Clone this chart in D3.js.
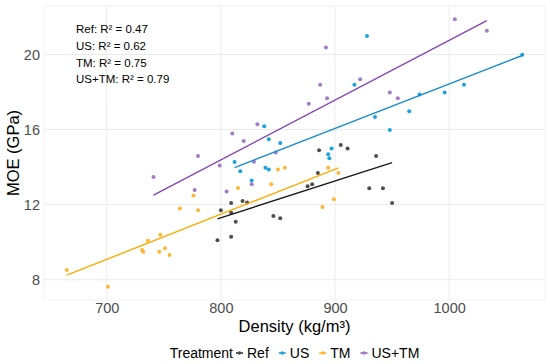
<!DOCTYPE html>
<html>
<head>
<meta charset="utf-8">
<script src="https://cdn.jsdelivr.net/npm/d3@7"></script>
<style>
  body { margin: 0; background: #fff; }
  text { font-family: "Liberation Sans", Arial, sans-serif; }
</style>
</head>
<body>
<svg id="chart" width="550" height="364"></svg>
<script>
// Data
const treatments = ["Ref", "US", "TM", "US+TM"];
const colors = ["#1a1a1a", "#1a8ccf", "#ffaa00", "#8445b5"];
const pointColors = ["#4d4d4d", "#1aa3dc", "#ffb733", "#a27cc6"];

const refDensity = [797, 809, 800, 809, 809, 813, 819, 823, 846, 852, 886, 905, 911, 936, 885, 876, 880, 930, 942, 950];
const refMoe = [10.10, 10.29, 11.70, 12.09, 11.57, 11.09, 12.19, 12.11, 11.39, 11.28, 14.90, 15.18, 14.99, 14.59, 13.69, 12.98, 13.08, 12.87, 12.87, 12.09];

const usDensity = [838, 842, 852, 812, 817, 839, 842, 827, 928, 1064, 917, 1013, 996, 974, 965, 935, 948, 897, 894, 895];
const usMoe = [16.18, 15.48, 15.28, 14.27, 13.78, 13.97, 13.87, 13.28, 20.98, 19.98, 18.38, 18.38, 17.97, 17.87, 16.98, 16.67, 15.98, 14.99, 14.68, 14.47];

const tmDensity = [665, 701, 731, 732, 736, 747, 746, 751, 755, 764, 776, 780, 815, 844, 850, 856, 894, 903, 899, 889];
const tmMoe = [8.51, 7.63, 9.58, 9.49, 10.08, 10.40, 9.49, 9.67, 9.31, 11.79, 12.48, 11.70, 12.89, 13.08, 13.87, 13.97, 13.97, 13.69, 12.28, 11.87];

const ustmDensity = [741, 780, 777, 799, 810, 820, 832, 829, 805, 827, 848, 1005, 1033, 892, 887, 922, 877, 893, 948, 955];
const ustmMoe = [13.47, 14.59, 12.78, 14.08, 15.79, 15.39, 16.28, 14.29, 12.70, 13.08, 14.77, 21.87, 21.26, 20.37, 18.38, 18.68, 17.38, 17.67, 17.97, 17.67];

const rSquared = ["0.47", "0.62", "0.75", "0.79"];
const xTicks = [700, 800, 900, 1000];
const yTicks = [8, 12, 16, 20];

const groups = [
  [refDensity, refMoe],
  [usDensity, usMoe],
  [tmDensity, tmMoe],
  [ustmDensity, ustmMoe]
].map(([xs, ys], i) => ({
  name: treatments[i],
  color: colors[i],
  pointColor: pointColors[i],
  points: xs.map((x, j) => ({ x, y: ys[j] }))
}));

const svg = d3.select("#chart");
const panel = { left: 44, top: 6, right: 545, bottom: 300 };

// ggplot style 5% expansion
function expand(ext) {
  const pad = (ext[1] - ext[0]) * 0.05;
  return [ext[0] - pad, ext[1] + pad];
}
const allPoints = groups.flatMap(g => g.points);
const x = d3.scaleLinear()
  .domain(expand(d3.extent(allPoints, d => d.x)))
  .range([panel.left, panel.right]);
const y = d3.scaleLinear()
  .domain(expand(d3.extent(allPoints, d => d.y)))
  .range([panel.bottom, panel.top]);

// Grid
const grid = svg.append("g").attr("stroke", "#ebebeb").attr("stroke-width", 1);
grid.append("rect")
  .attr("x", panel.left).attr("y", panel.top)
  .attr("width", panel.right - panel.left).attr("height", panel.bottom - panel.top)
  .attr("fill", "none").attr("stroke", "#f2f2f2");
grid.selectAll(".gx").data(xTicks).enter().append("line")
  .attr("x1", d => x(d)).attr("x2", d => x(d))
  .attr("y1", panel.top).attr("y2", panel.bottom);
grid.selectAll(".gy").data(yTicks).enter().append("line")
  .attr("x1", panel.left).attr("x2", panel.right)
  .attr("y1", d => y(d)).attr("y2", d => y(d));

// Axes (labels only)
const xAxis = svg.append("g")
  .attr("transform", `translate(0, ${panel.bottom})`)
  .call(d3.axisBottom(x).tickValues(xTicks).tickFormat(d3.format("d")).tickSize(0).tickPadding(3));
const yAxis = svg.append("g")
  .attr("transform", `translate(${panel.left}, 0)`)
  .call(d3.axisLeft(y).tickValues(yTicks).tickFormat(d3.format("d")).tickSize(0).tickPadding(4));
[xAxis, yAxis].forEach(a => {
  a.select(".domain").remove();
  a.selectAll("text")
    .attr("fill", "#4d4d4d")
    .style("font-size", "14.5px")
    .style("font-family", "'Liberation Sans', Arial, sans-serif");
});

// Axis titles
svg.append("text")
  .attr("x", (panel.left + panel.right) / 2).attr("y", 332)
  .attr("text-anchor", "middle").style("font-size", "16.5px")
  .text("Density (kg/m³)");
svg.append("text")
  .attr("transform", `translate(19, ${(panel.top + panel.bottom) / 2}) rotate(-90)`)
  .attr("text-anchor", "middle").style("font-size", "16.5px")
  .text("MOE (GPa)");

// Linear fits
function fit(points) {
  const mx = d3.mean(points, d => d.x), my = d3.mean(points, d => d.y);
  const b = d3.sum(points, d => (d.x - mx) * (d.y - my)) / d3.sum(points, d => (d.x - mx) ** 2);
  const a = my - b * mx;
  const [x0, x1] = d3.extent(points, d => d.x);
  return [{ x: x0, y: a + b * x0 }, { x: x1, y: a + b * x1 }];
}
const line = d3.line().x(d => x(d.x)).y(d => y(d.y));

groups.forEach(g => {
  svg.append("g").selectAll("circle").data(g.points).enter().append("circle")
    .attr("cx", d => x(d.x)).attr("cy", d => y(d.y)).attr("r", 2)
    .attr("fill", g.pointColor);
});
groups.forEach(g => {
  svg.append("path").datum(fit(g.points))
    .attr("d", line).attr("fill", "none")
    .attr("stroke", g.color).attr("stroke-width", 1.4);
});

// R² annotation
svg.append("g").selectAll("text").data(treatments).enter().append("text")
  .attr("x", 76).attr("y", (d, i) => 33.3 + i * 16.7)
  .style("font-size", "11.5px")
  .text((d, i) => `${d}: R² = ${rSquared[i]}`);

// Legend
const legend = svg.append("g");
const legY = 358;
let cx = 0;
const title = legend.append("text").attr("x", cx).attr("y", legY)
  .style("font-size", "14px").text("Treatment");
cx += title.node().getComputedTextLength() + 3;
groups.forEach((g, i) => {
  legend.append("line")
    .attr("x1", cx).attr("x2", cx + 7).attr("y1", legY - 5).attr("y2", legY - 5)
    .attr("stroke", g.color).attr("stroke-width", 1.4);
  legend.append("circle").attr("cx", cx + 3.5).attr("cy", legY - 5).attr("r", 1.8)
    .attr("fill", g.pointColor);
  cx += 11;
  const t = legend.append("text").attr("x", cx).attr("y", legY)
    .style("font-size", "14px").text(g.name);
  cx += t.node().getComputedTextLength() + (i < groups.length - 1 ? 10 : 0);
});
legend.attr("transform", `translate(${(panel.left + panel.right) / 2 - cx / 2}, 0)`);
</script>
</body>
</html>
